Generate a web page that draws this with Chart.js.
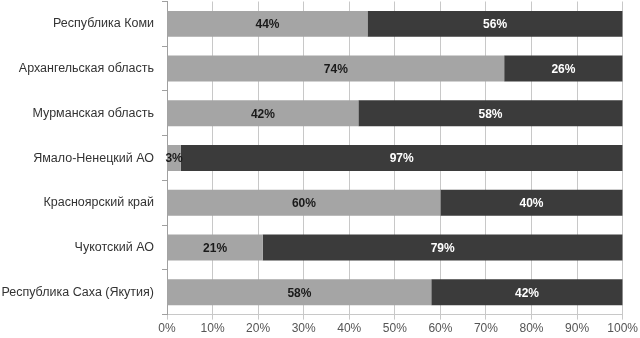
<!DOCTYPE html>
<html>
<head>
<meta charset="utf-8">
<script src="https://cdn.jsdelivr.net/npm/chart.js@4/dist/chart.umd.min.js"></script>
<style>
html,body{margin:0;padding:0;background:#fff;overflow:hidden;}
#wrap{width:640px;height:352px;position:relative;margin-top:-14px;}
</style>
</head>
<body>
<div id="wrap"><canvas id="c"></canvas></div>
<script>
const categories = ["Республика Коми","Архангельская область","Мурманская область","Ямало-Ненецкий АО","Красноярский край","Чукотский АО","Республика Саха (Якутия)"];
const lightValues = [44,74,42,3,60,21,58];
const darkValues = [56,26,58,97,40,79,42];
const xTicks = [0,10,20,30,40,50,60,70,80,90,100];

const labelPlugin = {
  id: 'segLabels',
  afterDatasetsDraw(chart) {
    const ctx = chart.ctx;
    ctx.save();
    ctx.font = 'bold 12px "Liberation Sans", Arial, sans-serif';
    ctx.textAlign = 'center';
    ctx.textBaseline = 'middle';
    chart.data.datasets.forEach((ds, di) => {
      const meta = chart.getDatasetMeta(di);
      meta.data.forEach((el, i) => {
        const v = ds.data[i];
        const cx = (el.x + el.base) / 2;
        ctx.fillStyle = di === 0 ? '#1a1a1a' : '#ffffff';
        ctx.fillText(v + '%', cx, el.y + 1);
      });
    });
    ctx.restore();
  }
};

new Chart(document.getElementById('c'), {
  type: 'bar',
  data: {
    labels: categories,
    datasets: [
      {data: lightValues, backgroundColor: '#a5a5a5', barPercentage: 0.58, categoryPercentage: 1},
      {data: darkValues, backgroundColor: '#3b3b3b', barPercentage: 0.58, categoryPercentage: 1}
    ]
  },
  options: {
    indexAxis: 'y',
    responsive: true,
    maintainAspectRatio: false,
    animation: false,
    layout: {padding: 0},
    plugins: {legend: {display: false}, tooltip: {enabled: false}},
    scales: {
      x: {
        stacked: true,
        min: 0, max: 100,
        afterBuildTicks(scale) { scale.ticks = xTicks.map(v => ({value: v})); },
        grid: {color: '#c8c8c8', tickLength: 5, drawTicks: true},
        border: {color: '#c8c8c8'},
        ticks: {
          callback: v => v + '%',
          color: '#555',
          font: {size: 12, family: '"Liberation Sans", Arial, sans-serif'},
          padding: 2,
          maxRotation: 0
        }
      },
      y: {
        stacked: true,
        afterFit(scale) { scale.width = 167; },
        grid: {drawOnChartArea: false, color: '#a0a0a0', tickLength: 5},
        border: {color: '#a0a0a0'},
        ticks: {
          color: '#333',
          font: {size: 12.5, family: '"Liberation Sans", Arial, sans-serif'},
          padding: 8
        }
      }
    }
  },
  plugins: [labelPlugin]
});
</script>
</body>
</html>
